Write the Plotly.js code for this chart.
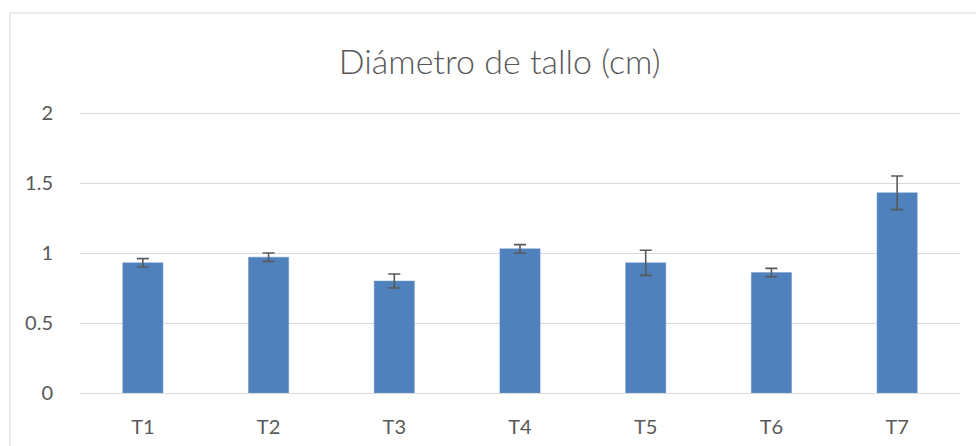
<!DOCTYPE html>
<html>
<head>
<meta charset="utf-8">
<script src="https://cdn.plot.ly/plotly-3.0.1.min.js"></script>
<style>html,body{margin:0;padding:0;background:#fff;}#chart{width:976px;height:446px;}</style>
</head>
<body>
<div id="chart"></div>
<script>
const categories = ["T1", "T2", "T3", "T4", "T5", "T6", "T7"];
const values = [0.93, 0.97, 0.80, 1.03, 0.93, 0.86, 1.43];
const errors = [0.03, 0.03, 0.05, 0.03, 0.09, 0.03, 0.12];
const yTicks = [0, 0.5, 1, 1.5, 2];
const yTickText = ["0", "0.5", "1", "1.5", "2"];

const font = "Lato, 'Open Sans', sans-serif";
const trace = {
  type: "bar",
  x: categories,
  y: values,
  width: 0.32,
  marker: {color: "#4f81bd", line: {color: "#6f98cc", width: 0.5}},
  error_y: {type: "data", array: errors, visible: true, color: "#595959", thickness: 1.6, width: 6}
};
const layout = {
  width: 976, height: 446,
  margin: {l: 80, r: 16, t: 110, b: 53, pad: 0},
  paper_bgcolor: "#fff", plot_bgcolor: "#fff",
  showlegend: false,
  title: {text: "Diámetro de tallo (cm)", font: {family: font, size: 34, weight: 300, color: "#595959"}, x: 0.512, xanchor: "center", y: 0.86, yanchor: "middle"},
  xaxis: {
    type: "category", showgrid: false, zeroline: false, showline: true, linecolor: "#d9d9d9", linewidth: 1,
    ticks: "outside", ticklen: 16, tickcolor: "rgba(0,0,0,0)",
    tickfont: {family: font, size: 20, color: "#595959"}, fixedrange: true
  },
  yaxis: {
    range: [0, 283/140], tickvals: yTicks, ticktext: yTickText, showgrid: true, gridcolor: "#d9d9d9", gridwidth: 1,
    zeroline: false, showline: false,
    ticks: "outside", ticklen: 22, tickcolor: "rgba(0,0,0,0)",
    tickfont: {family: font, size: 20, color: "#595959"}, fixedrange: true
  },
  shapes: [{
    type: "rect", xref: "paper", yref: "paper",
    x0: -70/880, x1: 1.2, y0: -0.5, y1: (393-13)/283,
    line: {color: "#d9d9d9", width: 1}, fillcolor: "rgba(0,0,0,0)", layer: "below"
  }]
};
Plotly.newPlot("chart", [trace], layout, {displayModeBar: false, staticPlot: true});
</script>
</body>
</html>
